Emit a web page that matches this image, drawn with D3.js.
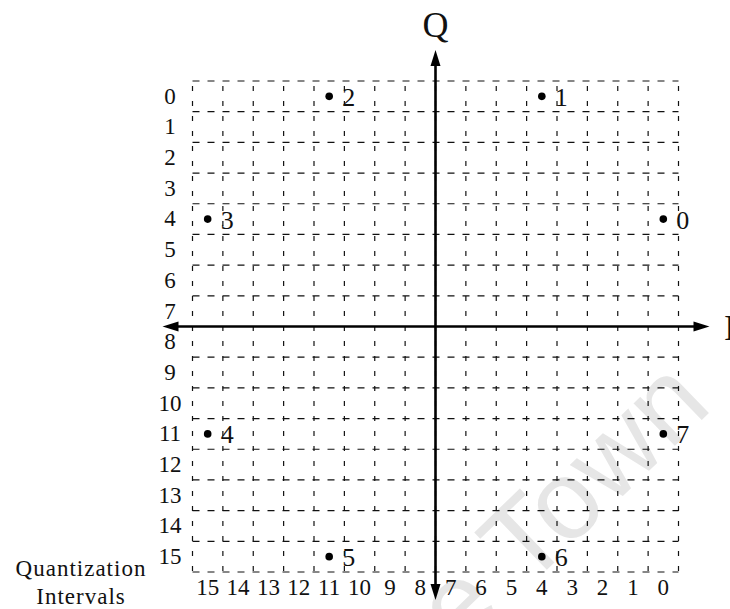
<!DOCTYPE html>
<html lang="en">
<head>
    <meta charset="UTF-8">
    <title>Quantization Intervals</title>
    <script src="https://cdn.jsdelivr.net/npm/d3@7"></script>
    <style>
        body { margin: 0; background: #fff; }
        svg { display: block; }
        text { font-family: "Liberation Serif", "Times New Roman", serif; fill: #111; }
    </style>
</head>
<body>
    <script>
        // interval labels along I (left to right) and Q (top to bottom)
        var iLabels = [15, 14, 13, 12, 11, 10, 9, 8, 7, 6, 5, 4, 3, 2, 1, 0];
        var qLabels = [0, 1, 2, 3, 4, 5, 6, 7, 8, 9, 10, 11, 12, 13, 14, 15];

        // the 8 symbols: name, I interval, Q interval
        var symbolNames = ["0", "1", "2", "3", "4", "5", "6", "7"];
        var symbolI = [0, 4, 11, 15, 15, 11, 4, 0];
        var symbolQ = [4, 0, 0, 4, 11, 15, 15, 11];

        var width = 730, height = 609;

        var svg = d3.select("body").append("svg")
            .attr("width", width)
            .attr("height", height);

        var x = d3.scaleBand().domain(iLabels).range([192.5, 678.5]);
        var y = d3.scaleBand().domain(qLabels).range([81, 572]);

        // faint watermark of the scan
        svg.append("text")
            .attr("transform", "translate(714,408) rotate(-44)")
            .attr("text-anchor", "end")
            .style("font-family", "'Liberation Sans', Arial, sans-serif")
            .style("font-size", "112px")
            .style("fill", "#e6e6e6")
            .text("Cape Town");

        // grid boundaries
        var xEdges = iLabels.map(function (d) { return x(d); }).concat([x.range()[1]]);
        var yEdges = qLabels.map(function (d) { return y(d); }).concat([y.range()[1]]);

        var grid = svg.append("g")
            .style("stroke", "#111")
            .style("stroke-width", 1.2)
            .style("fill", "none");

        grid.selectAll("line.h")
            .data(yEdges)
            .enter()
            .append("line")
            .attr("class", "h")
            .attr("x1", x.range()[0])
            .attr("x2", x.range()[1])
            .attr("y1", function (d) { return d; })
            .attr("y2", function (d) { return d; })
            .style("stroke-dasharray", "7,8");

        grid.selectAll("line.v")
            .data(xEdges)
            .enter()
            .append("line")
            .attr("class", "v")
            .attr("y1", y.range()[0])
            .attr("y2", y.range()[1])
            .attr("x1", function (d) { return d; })
            .attr("x2", function (d) { return d; })
            .style("stroke-dasharray", "5,10")
            .style("stroke-dashoffset", -5);

        // I / Q axes with arrows, crossing at the centre boundary
        var cx = x(iLabels[8]);
        var cy = y(qLabels[8]);
        var axLeft = x.range()[0] - 30, axRight = x.range()[1] + 31;
        var axTop = y.range()[0] - 31, axBottom = y.range()[1] + 28;

        function arrowHead(tx, ty, dx, dy) {
            var len = 16, half = 5;
            var bx = tx - dx * len, by = ty - dy * len;
            return "M" + tx + "," + ty +
                "L" + (bx - dy * half) + "," + (by + dx * half) +
                "L" + (bx + dy * half) + "," + (by - dx * half) + "Z";
        }

        var axes = svg.append("g");
        axes.append("line")
            .attr("x1", axLeft + 8).attr("x2", axRight - 8)
            .attr("y1", cy).attr("y2", cy)
            .style("stroke", "#000").style("stroke-width", 2.6);
        axes.append("line")
            .attr("x1", cx).attr("x2", cx)
            .attr("y1", axTop + 8).attr("y2", axBottom - 8)
            .style("stroke", "#000").style("stroke-width", 2.6);
        axes.selectAll("path")
            .data([[axLeft, cy, -1, 0], [axRight, cy, 1, 0], [cx, axTop, 0, -1], [cx, axBottom, 0, 1]])
            .enter()
            .append("path")
            .attr("d", function (d) { return arrowHead(d[0], d[1], d[2], d[3]); })
            .style("fill", "#000");

        // axis names
        svg.append("text")
            .attr("x", cx)
            .attr("y", 37)
            .attr("text-anchor", "middle")
            .style("font-size", "36px")
            .text("Q");
        svg.append("text")
            .attr("x", 724)
            .attr("y", 340)
            .style("font-size", "36px")
            .text("I");

        // tick labels from band axes
        var xAxis = svg.append("g")
            .attr("transform", "translate(0," + y.range()[1] + ")")
            .call(d3.axisBottom(x).tickSize(0).tickPadding(7));
        xAxis.select(".domain").remove();
        xAxis.selectAll("text")
            .style("font-family", "'Liberation Serif', serif")
            .style("font-size", "23px")
            .style("fill", "#111");

        var yAxis = svg.append("g")
            .call(d3.axisLeft(y).tickSize(0));
        yAxis.select(".domain").remove();
        yAxis.selectAll("text")
            .attr("x", 170)
            .attr("text-anchor", "middle")
            .style("font-family", "'Liberation Serif', serif")
            .style("font-size", "23px")
            .style("fill", "#111");

        svg.append("text")
            .attr("x", 81)
            .attr("y", 576)
            .attr("text-anchor", "middle")
            .style("font-size", "23px")
            .style("letter-spacing", "1px")
            .text("Quantization");
        svg.append("text")
            .attr("x", 81)
            .attr("y", 604)
            .attr("text-anchor", "middle")
            .style("font-size", "23px")
            .style("letter-spacing", "1px")
            .text("Intervals");

        // symbol points
        var symbols = symbolNames.map(function (n, k) {
            return { name: n, i: symbolI[k], q: symbolQ[k] };
        });

        var pts = svg.append("g").selectAll("g")
            .data(symbols)
            .enter()
            .append("g")
            .attr("transform", function (d) {
                return "translate(" + (x(d.i) + x.bandwidth() / 2) + "," + (y(d.q) + y.bandwidth() / 2) + ")";
            });
        pts.append("circle")
            .attr("r", 3.8)
            .style("fill", "#000");
        pts.append("text")
            .attr("x", 13)
            .attr("y", 9.5)
            .style("font-size", "26px")
            .text(function (d) { return d.name; });
    </script>
</body>
</html>
